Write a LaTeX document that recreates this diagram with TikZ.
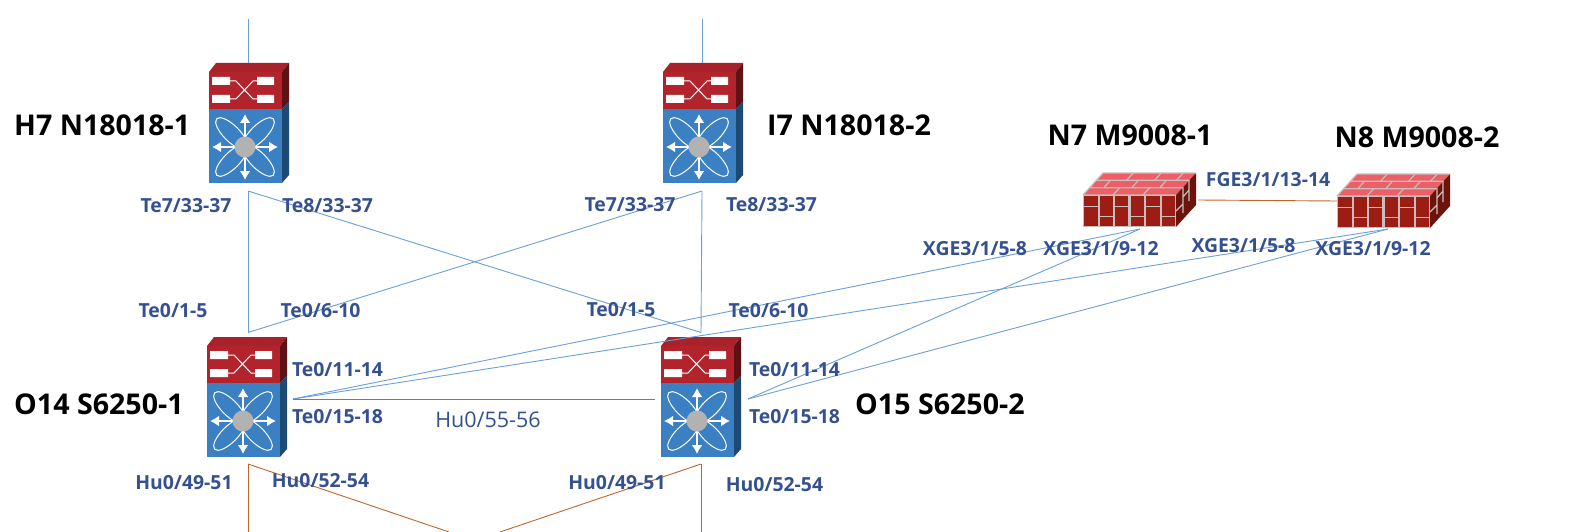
\documentclass[tikz,border=0pt]{standalone}
\usepackage{fontspec}
\setmainfont{Open Sans}
\usetikzlibrary{arrows.meta}
\definecolor{swred}{HTML}{B2232B}
\definecolor{swredtop}{HTML}{A8222A}
\definecolor{swredside}{HTML}{5E1216}
\definecolor{swblue}{HTML}{3A80C3}
\definecolor{swblueside}{HTML}{1C4A72}
\definecolor{fwfront}{HTML}{C9BDBD}
\definecolor{fwbrick}{HTML}{9C1D14}
\definecolor{fwtop}{HTML}{EC5F66}
\definecolor{fwside}{HTML}{6B140C}
\definecolor{linkblue}{HTML}{6A9FD8}
\definecolor{linkbrown}{HTML}{C0652B}
\definecolor{portblue}{HTML}{34508F}
\tikzset{
  devlabel/.style={font=\bfseries\fontsize{28.6}{30}\selectfont,black,inner sep=0pt},
  portlabel/.style={font=\bfseries\fontsize{19.4}{22}\selectfont,portblue,inner sep=0pt},
  bluelink/.style={linkblue,line width=.9pt},
  brownlink/.style={linkbrown,line width=.9pt},
  switchbox/.pic={
    \fill[swredtop] (0,0) -- (7,-9) -- (80,-9) -- (73,0) -- cycle;
    \fill[swredside] (73,0) -- (80,-9) -- (80,30) -- (73,37) -- cycle;
    \fill[swblueside] (73,37) -- (80,30) -- (80,103) -- (73,111) -- cycle;
    \fill[swred] (0,0) rectangle (73,37);
    \fill[swblue] (0,37) rectangle (73,111);
    % switching fabric on the red part
    \fill[white] (3,5) rectangle (21,13) (3,23) rectangle (21,31)
      (48,5) rectangle (65,13) (48,23) rectangle (65,31);
    \draw[white,line width=1pt] (21,9) -- (27,9) -- (44,27) -- (48,27)
      (21,27) -- (27,27) -- (44,9) -- (48,9);
    % star on the blue part
    \foreach \a in {45,135,225,315}
      \draw[white,line width=1pt,rotate around={\a:(36,75)}] (55,75) ellipse (21 and 8);
    \foreach \dx/\dy in {0/-33,0/33,-33/0,33/0}
      \draw[white,line width=2pt,-{Latex[length=9pt,width=11pt]}] (36,75) -- ++(\dx,\dy);
    \fill[black!30] (36,75) circle (10.5);
  },
  firewallbox/.pic={
    \fill[fwtop] (0,0) -- (20,-22) -- (113,-22) -- (93,0) -- cycle;
    \fill[fwside] (93,0) -- (113,-22) -- (113,10) -- (93,32) -- cycle;
    \fill[fwfront] (0,0) rectangle (93,32);
    % bricks of the front
    \foreach \x/\w in {1/14,32/13,63/14}{
      \fill[fwbrick] (\x,1) rectangle ++(\w,10);
      \fill[fwbrick] (\x,12) rectangle ++(\w,19);
    }
    \foreach \x/\w in {17/13,48/13,79/13}{
      \fill[fwbrick] (\x,1) rectangle ++(\w,20);
      \fill[fwbrick] (\x,22) rectangle ++(\w,9);
    }
    % joints of the top and the side
    \draw[fwfront,line width=1.2pt] (0,0) -- (93,0) (0,0) -- (20,-22) (20,-22) -- (113,-22)
      (6.7,-7.3) -- (99.7,-7.3) (13.3,-14.7) -- (106.3,-14.7);
    \foreach \u/\v in {30/0,60/0,14/1,42/1,70/1,30/2,58/2,80/2}
      \draw[fwfront,line width=1.2pt] ({\u+6.7*\v},{-7.3*\v}) -- ++(6.7,-7.3);
    \draw[fwfront,line width=1.2pt] (100,-8) -- (100,18) (106,-15) -- (106,6)
      (93,16) -- (100,9) (100,2) -- (106,-5);
  },
}
\begin{document}
\begin{tikzpicture}[x=1pt,y=-1pt]
  \useasboundingbox (0,0) rectangle (1576,532);

  \pic (h7) at (209,72) {switchbox};
  \pic (i7) at (663,72) {switchbox};
  \pic (o14) at (207,346) {switchbox};
  \pic (o15) at (661,346) {switchbox};
  \pic (n7) at (1083,195) {firewallbox};
  \pic (n8) at (1337,196) {firewallbox};

  \coordinate (h7up) at (248,19);
  \coordinate (h7in) at (248,63);
  \coordinate (i7up) at (702,19);
  \coordinate (i7in) at (702,63);
  \coordinate (h7out) at (248,191);
  \coordinate (i7out) at (702,191);
  \coordinate (o14in) at (248,332.5);
  \coordinate (o15in) at (701,332.5);
  \coordinate (o14port) at (293,399);
  \coordinate (o15port) at (748,399);
  \coordinate (o15west) at (655,399);
  \coordinate (n7out) at (1140,229);
  \coordinate (n8out) at (1388,229);
  \coordinate (n7east) at (1198,200);
  \coordinate (n8west) at (1337,201);
  \coordinate (o14out) at (248,464);
  \coordinate (o15out) at (701,464);
  \coordinate (o14down) at (248,532);
  \coordinate (o15down) at (701,532);
  \coordinate (o14cross) at (449,532);
  \coordinate (o15cross) at (500,532);

  \draw[bluelink] (h7up) -- (h7in);
  \draw[bluelink] (i7up) -- (i7in);
  \draw[bluelink] (h7out) -- (o14in);
  \draw[bluelink] (h7out) -- (o15in);
  \draw[bluelink] (i7out) -- (o14in);
  \draw[bluelink] (i7out) -- (o15in);
  \draw[bluelink] (n7out) -- (o14port);
  \draw[bluelink] (n7out) -- (o15port);
  \draw[bluelink] (n8out) -- (o14port);
  \draw[bluelink] (n8out) -- (o15port);
  \draw[brownlink] (o14port) -- (o15west);
  \draw[brownlink] (n7east) -- (n8west);
  \draw[brownlink] (o14out) -- (o14down);
  \draw[brownlink] (o14out) -- (o14cross);
  \draw[brownlink] (o15out) -- (o15down);
  \draw[brownlink] (o15out) -- (o15cross);

  \node[devlabel,anchor=west] (h7name) at (14,125) {H7 N18018-1};
  \node[devlabel,anchor=west] (i7name) at (767,125) {I7 N18018-2};
  \node[devlabel] (n7name) at (1130,135) {N7 M9008-1};
  \node[devlabel] (n8name) at (1417,137) {N8 M9008-2};
  \node[devlabel,anchor=west] (o14name) at (14,404) {O14 S6250-1};
  \node[devlabel,anchor=west] (o15name) at (855,404) {O15 S6250-2};

  \node[portlabel] (h7te7) at (186,206) {Te7/33-37};
  \node[portlabel] (h7te8) at (327.5,206) {Te8/33-37};
  \node[portlabel] (i7te7) at (630,205) {Te7/33-37};
  \node[portlabel] (i7te8) at (771.5,205) {Te8/33-37};
  \node[portlabel] (o14tea) at (173,310.5) {Te0/1-5};
  \node[portlabel] (o14teb) at (320.5,311) {Te0/6-10};
  \node[portlabel] (o15tea) at (621,309.5) {Te0/1-5};
  \node[portlabel] (o15teb) at (768.5,310.5) {Te0/6-10};
  \node[portlabel] (o14tec) at (337.5,370) {Te0/11-14};
  \node[portlabel] (o14ted) at (337.5,417) {Te0/15-18};
  \node[portlabel] (o15tec) at (794.5,370) {Te0/11-14};
  \node[portlabel] (o15ted) at (794.5,417) {Te0/15-18};
  \node[portlabel,font=\fontsize{21.5}{24}\selectfont] (o14hub) at (488,420) {Hu0/55-56};
  \node[portlabel] (o14hua) at (184,483) {Hu0/49-51};
  \node[portlabel] (o14huc) at (320.5,481) {Hu0/52-54};
  \node[portlabel] (o15hua) at (617,483) {Hu0/49-51};
  \node[portlabel] (o15huc) at (774.5,485) {Hu0/52-54};
  \node[portlabel] (n7fge) at (1268,180) {FGE3/1/13-14};
  \node[portlabel] (n7xa) at (975,249) {XGE3/1/5-8};
  \node[portlabel] (n7xb) at (1101,249) {XGE3/1/9-12};
  \node[portlabel] (n8xa) at (1243.5,246) {XGE3/1/5-8};
  \node[portlabel] (n8xb) at (1373,249) {XGE3/1/9-12};
\end{tikzpicture}
\end{document}
